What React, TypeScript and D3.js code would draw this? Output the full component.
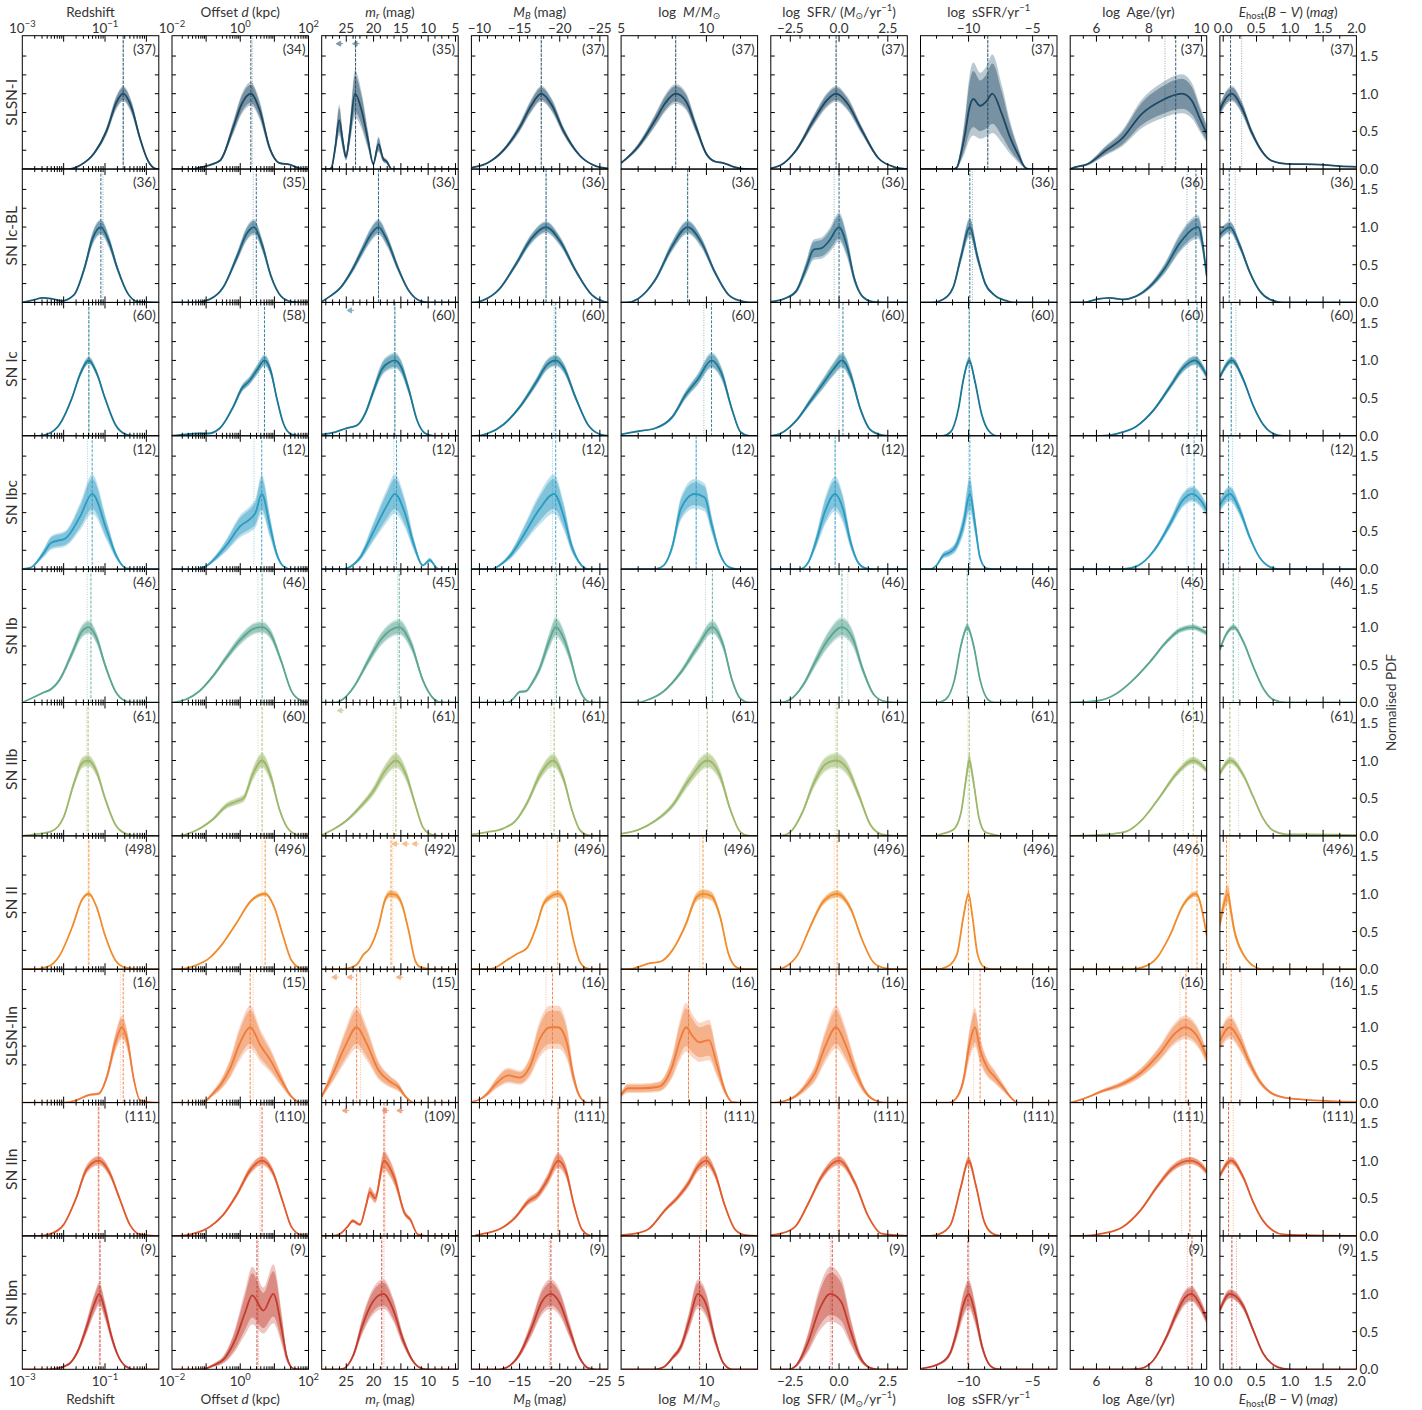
import React, { useEffect, useRef } from 'react';
import * as d3 from 'd3';

// supernova classes, one per row
const classes = ['SLSN-I', 'SN Ic-BL', 'SN Ic', 'SN Ibc', 'SN Ib', 'SN IIb', 'SN II', 'SLSN-IIn', 'SN IIn', 'SN Ibn'];
const classColors = ['#1c4863', '#1d5d7c', '#1b7796', '#2b9bc2', '#5ba593', '#9db86b', '#f18c2c', '#ef7b3a', '#e05a2b', '#c33b2d'];

// sample sizes, rows = classes, cols = properties
const counts = [
  [37, 34, 35, 37, 37, 37, 37, 37, 37],
  [36, 35, 36, 36, 36, 36, 36, 36, 36],
  [60, 58, 60, 60, 60, 60, 60, 60, 60],
  [12, 12, 12, 12, 12, 12, 12, 12, 12],
  [46, 46, 45, 46, 46, 46, 46, 46, 46],
  [61, 60, 61, 61, 61, 61, 61, 61, 61],
  [498, 496, 492, 496, 496, 496, 496, 496, 496],
  [16, 15, 15, 16, 16, 16, 16, 16, 16],
  [111, 110, 109, 111, 111, 111, 111, 111, 111],
  [9, 9, 9, 9, 9, 9, 9, 9, 9],
];

// ---- Redshift (log10 z, normalised pdf) ----
const redshiftPdf = [
  [[-1.9, 0], [-1.6, 0.05], [-1.25, 0.22], [-0.96, 0.51], [-0.72, 0.89], [-0.56, 1], [-0.36, 0.82], [-0.16, 0.42], [0.04, 0.11], [0.2, 0.01], [0.3, 0]],
  [[-3, 0], [-2.75, 0.03], [-2.5, 0.06], [-2.3, 0.05], [-2.05, 0.02], [-1.75, 0.1], [-1.5, 0.45], [-1.3, 0.85], [-1.1, 1], [-0.9, 0.8], [-0.7, 0.45], [-0.45, 0.12], [-0.2, 0.01], [0.3, 0]],
  [[-2.6, 0], [-2.4, 0.02], [-2.1, 0.15], [-1.8, 0.5], [-1.6, 0.82], [-1.39, 1], [-1.2, 0.83], [-1.0, 0.5], [-0.75, 0.15], [-0.5, 0.02], [-0.3, 0]],
  [[-3, 0], [-2.8, 0.02], [-2.5, 0.2], [-2.3, 0.35], [-1.95, 0.41], [-1.6, 0.7], [-1.31, 1], [-0.96, 0.52], [-0.72, 0.17], [-0.48, 0.01], [-0.2, 0]],
  [[-3, 0], [-2.8, 0.05], [-2.5, 0.13], [-2.3, 0.18], [-2.1, 0.3], [-1.8, 0.65], [-1.55, 0.95], [-1.39, 1], [-1.2, 0.85], [-1.0, 0.5], [-0.75, 0.15], [-0.5, 0.02], [-0.3, 0]],
  [[-3, 0], [-2.7, 0.02], [-2.3, 0.06], [-2.0, 0.25], [-1.75, 0.7], [-1.55, 0.97], [-1.41, 1], [-1.2, 0.85], [-1.0, 0.5], [-0.75, 0.15], [-0.5, 0.03], [-0.2, 0]],
  [[-2.7, 0], [-2.4, 0.03], [-2.1, 0.18], [-1.8, 0.55], [-1.55, 0.93], [-1.39, 1], [-1.2, 0.82], [-1.0, 0.45], [-0.75, 0.12], [-0.5, 0.02], [-0.2, 0]],
  [[-2.0, 0], [-1.7, 0.03], [-1.4, 0.1], [-1.15, 0.12], [-0.95, 0.35], [-0.75, 0.8], [-0.59, 1], [-0.45, 0.8], [-0.3, 0.3], [-0.15, 0.03], [0.3, 0]],
  [[-2.6, 0], [-2.3, 0.03], [-2.0, 0.15], [-1.7, 0.5], [-1.45, 0.88], [-1.15, 1], [-0.9, 0.85], [-0.65, 0.5], [-0.4, 0.15], [-0.15, 0.02], [0.2, 0]],
  [[-2.4, 0], [-2.1, 0.02], [-1.85, 0.08], [-1.65, 0.25], [-1.45, 0.55], [-1.25, 0.88], [-1.14, 1], [-1.0, 0.78], [-0.85, 0.45], [-0.7, 0.2], [-0.5, 0.04], [-0.3, 0]],
];
const redshiftBand = [0.08, 0.08, 0.04, 0.2, 0.07, 0.06, 0.02, 0.12, 0.05, 0.12];
const redshiftMedian = [[-0.56, -0.56], [-1.1, -1.05], [-1.39, -1.39], [-1.31, -1.42], [-1.34, -1.43], [-1.41, -1.45], [-1.39, -1.41], [-0.56, -0.63], [-1.15, -1.17], [-1.12, -1.14]];

// ---- Offset (log10 kpc) ----
const offsetPdf = [
  [[-1.4, 0], [-1.2, 0.02], [-0.6, 0.11], [-0.2, 0.56], [0.04, 0.86], [0.31, 1], [0.57, 0.78], [0.87, 0.27], [1.15, 0.08], [1.45, 0.06], [1.75, 0.01], [2, 0]],
  [[-1.3, 0], [-0.9, 0.04], [-0.5, 0.2], [-0.1, 0.6], [0.2, 0.92], [0.4, 1], [0.65, 0.75], [0.9, 0.35], [1.2, 0.08], [1.5, 0.01], [1.8, 0]],
  [[-2, 0], [-1.6, 0.02], [-1.2, 0.03], [-0.95, 0.03], [-0.6, 0.1], [-0.2, 0.39], [0.05, 0.63], [0.25, 0.72], [0.5, 0.88], [0.71, 1], [0.9, 0.85], [1.07, 0.5], [1.26, 0.17], [1.5, 0.02], [1.8, 0]],
  [[-1.3, 0], [-1.0, 0.04], [-0.79, 0.12], [-0.4, 0.32], [0.0, 0.57], [0.3, 0.67], [0.45, 0.75], [0.63, 1], [0.87, 0.57], [1.07, 0.2], [1.26, 0.04], [1.5, 0]],
  [[-2, 0], [-1.6, 0.04], [-1.2, 0.15], [-0.8, 0.35], [-0.4, 0.6], [0.0, 0.83], [0.4, 0.98], [0.64, 1], [0.9, 0.9], [1.2, 0.55], [1.5, 0.15], [1.8, 0.02], [2, 0]],
  [[-1.8, 0], [-1.4, 0.05], [-0.8, 0.22], [-0.4, 0.4], [-0.15, 0.45], [0.1, 0.5], [0.35, 0.8], [0.64, 1], [0.9, 0.78], [1.15, 0.35], [1.45, 0.07], [1.8, 0]],
  [[-1.8, 0], [-1.3, 0.05], [-0.9, 0.15], [-0.5, 0.35], [-0.1, 0.62], [0.3, 0.9], [0.73, 1], [1.0, 0.82], [1.25, 0.45], [1.5, 0.12], [1.8, 0.01], [2, 0]],
  [[-1.1, 0], [-0.8, 0.12], [-0.55, 0.25], [-0.3, 0.45], [0.0, 0.8], [0.29, 1], [0.6, 0.75], [0.9, 0.55], [1.2, 0.3], [1.5, 0.08], [1.8, 0]],
  [[-1.8, 0], [-1.3, 0.04], [-0.9, 0.12], [-0.5, 0.28], [-0.1, 0.55], [0.3, 0.88], [0.64, 1], [0.95, 0.85], [1.25, 0.45], [1.5, 0.12], [1.8, 0.01], [2, 0]],
  [[-1.1, 0], [-0.8, 0.05], [-0.45, 0.15], [-0.15, 0.39], [0.14, 0.75], [0.35, 0.98], [0.68, 0.78], [0.97, 1], [1.22, 0.52], [1.36, 0.17], [1.56, 0.01], [1.8, 0]],
];
const offsetBand = [0.12, 0.08, 0.06, 0.2, 0.06, 0.08, 0.02, 0.22, 0.05, 0.3];
const offsetMedian = [[0.31, 0.35], [0.47, 0.38], [0.71, 0.53], [0.63, 0.4], [0.64, 0.52], [0.64, 0.52], [0.73, 0.64], [0.29, 0.38], [0.64, 0.58], [0.49, 0.53]];

// ---- apparent magnitude m_r ----
const mrPdf = [
  [[28.2, 0], [27.7, 0.02], [27.0, 0.3], [26.3, 0.65], [25.6, 0.35], [25.05, 0.16], [24.4, 0.45], [23.4, 1.0], [22.2, 0.78], [21.0, 0.38], [20.05, 0.07], [19.1, 0.33], [18.2, 0.13], [17.6, 0.1], [16.7, 0]],
  [[29.5, 0.01], [28, 0.08], [26, 0.2], [24, 0.42], [22, 0.7], [20.5, 0.9], [19.1, 1], [17.5, 0.82], [15.5, 0.45], [13.5, 0.15], [11.5, 0.02], [10, 0]],
  [[29.5, 0.02], [27, 0.05], [25, 0.1], [23, 0.14], [21.5, 0.3], [20, 0.6], [18.5, 0.88], [17, 0.98], [16.1, 1], [15, 0.92], [13.5, 0.6], [12, 0.2], [10.5, 0.03], [9, 0]],
  [[25.5, 0], [24.3, 0.03], [22.5, 0.15], [20, 0.5], [17.5, 0.85], [16.1, 1], [14.3, 0.75], [12.5, 0.3], [11, 0.05], [9.7, 0.12], [8.5, 0.02], [8, 0]],
  [[27, 0], [25.5, 0.05], [23.5, 0.22], [21, 0.55], [18.5, 0.85], [15.3, 1], [13, 0.75], [11, 0.3], [9, 0.05], [7.5, 0]],
  [[29.5, 0.01], [27.5, 0.08], [25, 0.2], [22.5, 0.38], [20, 0.6], [18, 0.85], [15.9, 1], [14, 0.8], [12.5, 0.45], [11, 0.12], [9.5, 0.02], [8, 0]],
  [[26, 0], [24.9, 0.01], [23.1, 0.06], [21.9, 0.19], [20.7, 0.28], [19.1, 0.57], [17.9, 0.92], [17.0, 1.0], [16.0, 0.99], [14.9, 0.88], [13.6, 0.52], [12.4, 0.12], [11.5, 0.03], [9, 0]],
  [[29.5, 0.08], [27.4, 0.39], [25.2, 0.75], [23.1, 1], [21.3, 0.79], [19.1, 0.43], [17.0, 0.28], [15.5, 0.21], [13.9, 0.06], [12.7, 0]],
  [[27.5, 0], [26.1, 0.03], [24.8, 0.12], [23.8, 0.2], [22.5, 0.15], [21.4, 0.4], [20.7, 0.58], [19.7, 0.5], [18.1, 1.0], [17, 0.9], [16.1, 0.75], [14.3, 0.3], [13.3, 0.22], [11.9, 0.02], [10.5, 0]],
  [[26.5, 0], [25.5, 0.01], [23.7, 0.19], [22.1, 0.57], [20.1, 0.9], [18.2, 1], [16.4, 0.79], [14.6, 0.39], [12.7, 0.1], [11.1, 0.01], [10, 0]],
];
const mrBand = [0.24, 0.08, 0.08, 0.2, 0.08, 0.08, 0.04, 0.22, 0.1, 0.15];
const mrMedian = [[23.3, 23.3], [19.1, 19.1], [16.1, 16.1], [15.8, 16.3], [15.3, 15.6], [15.9, 16.4], [16.8, 16.5], [23.1, 22.4], [18.1, 17.9], [18.5, 18.1]];
// upper limits drawn as small arrows near the top
const mrLimits = [[26.3, 23.3], [], [24.3], [], [], [26.1], [16.1, 14.2, 12.4], [27.1, 24.3, 15.3], [25.2, 17.9, 15.2], []];

// ---- absolute magnitude M_B ----
const mbPdf = [
  [[-9, 0.02], [-11, 0.08], [-13, 0.25], [-15, 0.55], [-16.5, 0.85], [-17.7, 1], [-19, 0.85], [-20.5, 0.5], [-22.5, 0.18], [-24.5, 0.04], [-26, 0.01]],
  [[-9.5, 0], [-10.5, 0.03], [-12.5, 0.18], [-14.5, 0.5], [-16.5, 0.85], [-18.3, 1], [-20, 0.82], [-22, 0.42], [-24, 0.1], [-25.5, 0.01], [-26, 0]],
  [[-9.5, 0], [-11, 0.03], [-13, 0.15], [-15, 0.38], [-17, 0.7], [-18.5, 0.95], [-19.5, 1], [-20.5, 0.9], [-22, 0.5], [-23.5, 0.15], [-25, 0.02], [-26, 0]],
  [[-11.5, 0], [-12.5, 0.05], [-14, 0.2], [-15.5, 0.45], [-17.5, 0.8], [-19.3, 1], [-20.5, 0.7], [-21.5, 0.3], [-22.5, 0.08], [-23.5, 0]],
  [[-13.5, 0], [-14.2, 0.05], [-15, 0.14], [-15.8, 0.15], [-16.5, 0.25], [-17.5, 0.45], [-18.7, 0.82], [-19.5, 1], [-20.5, 0.85], [-21.3, 0.6], [-22.2, 0.25], [-23.3, 0.03], [-24, 0]],
  [[-9, 0.02], [-11, 0.05], [-13, 0.1], [-14.5, 0.2], [-16, 0.45], [-17.5, 0.8], [-19.2, 1], [-20.5, 0.75], [-21.5, 0.35], [-22.5, 0.08], [-23.5, 0.01], [-24.5, 0]],
  [[-11, 0], [-11.7, 0.01], [-13.4, 0.12], [-14.6, 0.2], [-15.9, 0.28], [-17.1, 0.57], [-17.95, 0.86], [-18.8, 0.96], [-19.75, 1], [-20.7, 0.88], [-21.7, 0.39], [-22.5, 0.1], [-23.4, 0.01], [-24, 0]],
  [[-9, 0.01], [-10, 0.04], [-11, 0.12], [-12.15, 0.26], [-13.6, 0.36], [-15.05, 0.33], [-16.3, 0.48], [-17.5, 0.84], [-18.8, 1], [-19.8, 1], [-20.9, 0.79], [-21.7, 0.35], [-22.5, 0.08], [-23.4, 0]],
  [[-9.5, 0.01], [-11, 0.04], [-13, 0.12], [-14.5, 0.25], [-16, 0.45], [-17.3, 0.55], [-18.5, 0.75], [-19.8, 1], [-20.8, 0.85], [-21.8, 0.4], [-22.8, 0.08], [-24, 0]],
  [[-12.5, 0], [-13.5, 0.03], [-15, 0.2], [-16.5, 0.55], [-17.8, 0.9], [-18.9, 1], [-20, 0.88], [-21.3, 0.5], [-22.5, 0.15], [-23.5, 0.02], [-24.5, 0]],
];
const mbBand = [0.08, 0.06, 0.06, 0.2, 0.1, 0.07, 0.04, 0.22, 0.08, 0.15];
const mbMedian = [[-17.7, -17.7], [-18.3, -18.3], [-19.5, -19.3], [-19.5, -19.1], [-19.6, -19.4], [-19.3, -18.9], [-19.75, -18.4], [-19.1, -18.3], [-19.8, -19.8], [-18.9, -18.7]];

// ---- stellar mass log M ----
const massPdf = [
  [[5, 0.08], [6, 0.3], [7, 0.65], [7.6, 0.88], [8.2, 1], [8.8, 0.9], [9.4, 0.55], [10, 0.2], [10.5, 0.1], [11, 0.08], [11.6, 0.03], [12.5, 0]],
  [[5.3, 0], [6, 0.05], [7, 0.3], [8, 0.75], [8.9, 1], [9.7, 0.8], [10.5, 0.4], [11.3, 0.1], [12, 0.02], [12.5, 0]],
  [[5, 0.02], [6, 0.06], [7, 0.1], [8, 0.25], [8.8, 0.55], [9.5, 0.75], [10.3, 1], [10.9, 0.82], [11.5, 0.35], [12, 0.05], [12.5, 0]],
  [[7, 0], [7.5, 0.05], [8, 0.3], [8.5, 0.8], [9.3, 1], [9.9, 0.95], [10.3, 0.6], [10.8, 0.2], [11.3, 0.03], [11.8, 0]],
  [[6, 0], [6.5, 0.03], [7.5, 0.15], [8.5, 0.4], [9.5, 0.75], [10.35, 1], [11, 0.75], [11.5, 0.3], [12, 0.05], [12.5, 0]],
  [[5, 0.03], [6, 0.08], [7, 0.2], [8, 0.4], [9, 0.75], [10.05, 1], [10.8, 0.8], [11.4, 0.35], [12, 0.05], [12.5, 0]],
  [[5.5, 0], [6, 0.03], [6.7, 0.08], [7.3, 0.1], [8, 0.25], [8.8, 0.6], [9.4, 0.95], [9.8, 1], [10.3, 0.97], [10.8, 0.7], [11.3, 0.2], [11.8, 0.02], [12.3, 0]],
  [[5, 0.1], [5.4, 0.19], [6.2, 0.19], [7.2, 0.21], [8, 0.48], [8.45, 0.83], [8.8, 1], [9.2, 0.88], [9.6, 0.8], [10.15, 0.83], [10.6, 0.52], [11.1, 0.15], [11.5, 0.01], [12, 0]],
  [[5, 0.01], [6, 0.04], [6.6, 0.09], [7.6, 0.35], [8.35, 0.52], [8.95, 0.7], [9.5, 0.92], [10.0, 1], [10.5, 0.83], [11.1, 0.39], [11.7, 0.08], [12.3, 0.01], [13, 0]],
  [[7, 0], [7.5, 0.03], [8, 0.15], [8.5, 0.3], [9, 0.65], [9.5, 1], [10, 0.85], [10.5, 0.4], [11, 0.08], [11.5, 0]],
];
const massBand = [0.1, 0.07, 0.08, 0.15, 0.07, 0.08, 0.05, 0.25, 0.06, 0.15];
const massMedian = [[8.2, 8.2], [8.9, 8.9], [10.3, 9.85], [9.4, 9.4], [10.35, 9.95], [10.05, 9.55], [9.8, 9.6], [8.95, 8.95], [10.0, 9.68], [9.6, 9.6]];

// ---- star formation rate log SFR ----
const sfrPdf = [
  [[-3.5, 0.01], [-3, 0.05], [-2.2, 0.25], [-1.3, 0.65], [-0.6, 0.92], [-0.15, 1], [0.4, 0.88], [1.2, 0.5], [2, 0.15], [2.8, 0.03], [3.5, 0]],
  [[-3.5, 0.01], [-2.8, 0.05], [-2.2, 0.15], [-1.7, 0.45], [-1.3, 0.7], [-0.9, 0.72], [-0.5, 0.82], [0, 1], [0.4, 0.75], [0.8, 0.3], [1.2, 0.08], [1.7, 0.01], [2.2, 0]],
  [[-3.5, 0], [-3, 0.03], [-2.2, 0.2], [-1.5, 0.45], [-0.8, 0.7], [-0.3, 0.88], [0.15, 1], [0.6, 0.8], [1.1, 0.35], [1.6, 0.08], [2.2, 0.01], [2.6, 0]],
  [[-2, 0], [-1.6, 0.08], [-1.2, 0.35], [-0.7, 0.78], [-0.2, 1], [0.2, 0.8], [0.6, 0.35], [1.0, 0.08], [1.4, 0.01], [1.8, 0]],
  [[-3, 0], [-2.5, 0.04], [-1.8, 0.25], [-1.2, 0.55], [-0.6, 0.82], [0.15, 1], [0.7, 0.85], [1.2, 0.45], [1.8, 0.1], [2.4, 0.01], [2.8, 0]],
  [[-3, 0], [-2.5, 0.05], [-1.9, 0.3], [-1.3, 0.7], [-0.7, 0.95], [-0.15, 1], [0.4, 0.9], [1.0, 0.55], [1.6, 0.15], [2.2, 0.02], [2.8, 0]],
  [[-3.2, 0], [-2.7, 0.04], [-2.1, 0.2], [-1.5, 0.55], [-0.8, 0.9], [-0.1, 1], [0.6, 0.8], [1.2, 0.38], [1.8, 0.08], [2.4, 0.01], [2.8, 0]],
  [[-3.3, 0], [-2.8, 0.02], [-2.26, 0.08], [-1.66, 0.23], [-1.23, 0.39], [-0.72, 0.74], [-0.15, 1], [0.3, 0.79], [0.82, 0.43], [1.33, 0.15], [1.84, 0.03], [2.4, 0]],
  [[-3.5, 0.01], [-3, 0.03], [-2.26, 0.12], [-1.58, 0.43], [-0.89, 0.79], [0, 1], [0.82, 0.7], [1.5, 0.26], [2.19, 0.03], [2.9, 0.01], [3.5, 0]],
  [[-2.6, 0], [-2.2, 0.05], [-1.6, 0.35], [-1.0, 0.8], [-0.45, 1], [0.1, 0.9], [0.6, 0.5], [1.1, 0.15], [1.6, 0.02], [2, 0]],
];
const sfrBand = [0.08, 0.15, 0.08, 0.18, 0.1, 0.08, 0.04, 0.22, 0.05, 0.28];
const sfrMedian = [[-0.15, -0.15], [0.0, -0.25], [0.2, 0.0], [-0.2, -0.2], [0.15, 0.45], [-0.1, -0.2], [-0.1, -0.25], [-0.15, -0.15], [0.0, -0.07], [-0.35, -0.45]];

// ---- specific SFR ----
const ssfrPdf = [
  [[-11.2, 0], [-10.92, 0.02], [-10.6, 0.2], [-10.27, 0.47], [-9.95, 0.8], [-9.63, 0.93], [-9.1, 0.84], [-8.6, 0.9], [-8.14, 1], [-7.4, 0.73], [-6.76, 0.42], [-6.1, 0.18], [-5.59, 0.02], [-5.3, 0]],
  [[-12.8, 0], [-12, 0.04], [-11.2, 0.2], [-10.6, 0.6], [-9.9, 1], [-9.3, 0.6], [-8.7, 0.25], [-8, 0.1], [-7, 0.02], [-6.5, 0]],
  [[-12, 0], [-11.4, 0.05], [-10.8, 0.35], [-10.4, 0.75], [-9.95, 1], [-9.5, 0.72], [-9, 0.3], [-8.4, 0.06], [-7.8, 0]],
  [[-13, 0], [-12.5, 0.05], [-12, 0.18], [-11.5, 0.22], [-11, 0.3], [-10.4, 0.6], [-9.9, 1], [-9.5, 0.6], [-9.1, 0.15], [-8.6, 0.01], [-8, 0]],
  [[-12.5, 0], [-11.8, 0.04], [-11.1, 0.3], [-10.6, 0.75], [-10.1, 1], [-9.6, 0.75], [-9.1, 0.3], [-8.5, 0.04], [-8, 0]],
  [[-12.6, 0], [-12, 0.03], [-11.2, 0.08], [-10.6, 0.3], [-10.2, 0.75], [-9.95, 1], [-9.6, 0.7], [-9.2, 0.25], [-8.7, 0.05], [-8.1, 0.02], [-7.5, 0]],
  [[-12.5, 0], [-11.6, 0.04], [-10.9, 0.2], [-10.4, 0.7], [-10.0, 1], [-9.7, 0.7], [-9.3, 0.2], [-8.8, 0.03], [-8.2, 0]],
  [[-11.5, 0], [-11, 0.05], [-10.4, 0.3], [-9.9, 0.8], [-9.5, 1], [-9.1, 0.7], [-8.5, 0.45], [-8, 0.35], [-7.3, 0.2], [-6.6, 0.05], [-6.2, 0]],
  [[-13, 0], [-12.2, 0.03], [-11.4, 0.15], [-10.6, 0.65], [-10, 1], [-9.4, 0.65], [-8.8, 0.2], [-8.2, 0.04], [-7.5, 0]],
  [[-13.7, 0.01], [-12.2, 0.08], [-11.45, 0.21], [-10.92, 0.5], [-10.4, 0.86], [-10, 1], [-9.5, 0.75], [-8.97, 0.32], [-8.45, 0.08], [-7.93, 0.01], [-7.3, 0]],
];
const ssfrBand = [0.4, 0.1, 0.04, 0.18, 0.04, 0.08, 0.03, 0.2, 0.05, 0.15];
const ssfrMedian = [[-8.5, -8.5], [-9.9, -9.7], [-9.95, -9.95], [-9.9, -10.0], [-10.1, -10.1], [-9.95, -10.05], [-10.0, -10.05], [-9.1, -9.6], [-10.0, -10.0], [-10.05, -9.97]];

// ---- stellar population age ----
const agePdf = [
  [[5, 0], [5.06, 0.01], [5.69, 0.07], [6.33, 0.24], [6.96, 0.4], [7.72, 0.73], [8.49, 0.91], [9.25, 1], [9.63, 0.91], [9.94, 0.67], [10.2, 0.47]],
  [[5.5, 0], [6, 0.04], [6.5, 0.06], [7, 0.04], [7.5, 0.08], [8, 0.2], [8.6, 0.45], [9.2, 0.8], [9.87, 1], [10.2, 0.35]],
  [[6.2, 0], [6.8, 0.03], [7.5, 0.12], [8.2, 0.35], [8.8, 0.65], [9.3, 0.9], [9.75, 1], [10.2, 0.8]],
  [[7, 0], [7.6, 0.05], [8.2, 0.25], [8.8, 0.6], [9.3, 0.92], [9.65, 1], [10, 0.9], [10.2, 0.78]],
  [[5, 0], [6, 0.02], [6.77, 0.12], [7.4, 0.3], [8.04, 0.54], [8.68, 0.81], [9.18, 0.96], [9.69, 1], [9.94, 0.97], [10.2, 0.92]],
  [[5, 0], [6, 0.01], [6.7, 0.03], [7.15, 0.06], [7.78, 0.23], [8.42, 0.52], [9.06, 0.83], [9.69, 1], [10.2, 0.87]],
  [[7.3, 0], [7.8, 0.03], [8.3, 0.15], [8.8, 0.45], [9.3, 0.85], [9.79, 1], [10.2, 0.45]],
  [[5, 0], [5.5, 0.05], [6.2, 0.15], [7, 0.25], [7.7, 0.4], [8.4, 0.65], [9, 0.92], [9.37, 1], [9.8, 0.9], [10.2, 0.6]],
  [[5.5, 0], [6.2, 0.03], [7, 0.12], [7.7, 0.35], [8.3, 0.65], [8.9, 0.9], [9.56, 1], [10, 0.93], [10.2, 0.85]],
  [[7.2, 0], [7.66, 0.01], [8.17, 0.12], [8.68, 0.44], [9.06, 0.75], [9.37, 0.95], [9.63, 1], [9.88, 0.9], [10.2, 0.66]],
];
const ageBand = [0.2, 0.12, 0.05, 0.08, 0.03, 0.04, 0.03, 0.12, 0.04, 0.08];
const ageMedian = [[9.02, 8.61], [9.79, 9.45], [9.83, 9.52], [9.72, 9.45], [9.67, 9.08], [9.69, 9.31], [9.83, 9.64], [9.41, 9.18], [9.56, 9.25], [9.64, 9.46]];

// ---- host extinction E(B-V) ----
const ebvPdf = [
  [[-0.05, 0.78], [0.0, 0.88], [0.13, 1], [0.277, 0.82], [0.427, 0.49], [0.578, 0.24], [0.728, 0.11], [0.95, 0.07], [1.45, 0.06], [1.75, 0.04], [2.0, 0.03]],
  [[-0.05, 0.9], [0.1, 1], [0.25, 0.75], [0.4, 0.4], [0.55, 0.15], [0.7, 0.04], [0.9, 0], [2, 0]],
  [[-0.05, 0.78], [0.13, 1], [0.3, 0.75], [0.45, 0.4], [0.6, 0.15], [0.75, 0.03], [0.9, 0], [2, 0]],
  [[-0.05, 0.85], [0.1, 1], [0.25, 0.78], [0.4, 0.42], [0.55, 0.15], [0.7, 0.03], [0.85, 0], [2, 0]],
  [[-0.05, 0.7], [0.03, 0.88], [0.16, 1], [0.3, 0.81], [0.45, 0.48], [0.6, 0.19], [0.75, 0.04], [0.95, 0], [2, 0]],
  [[-0.05, 0.83], [0.11, 1], [0.3, 0.81], [0.45, 0.52], [0.6, 0.23], [0.75, 0.07], [0.95, 0.02], [1.3, 0.02], [1.7, 0.015], [2, 0.01]],
  [[-0.05, 0.6], [0.02, 0.9], [0.07, 1], [0.12, 0.75], [0.17, 0.5], [0.22, 0.35], [0.3, 0.2], [0.4, 0.08], [0.5, 0.02], [0.6, 0], [2, 0]],
  [[-0.05, 0.82], [0.1, 1], [0.25, 0.82], [0.4, 0.52], [0.55, 0.28], [0.7, 0.14], [0.9, 0.07], [1.2, 0.04], [1.6, 0.02], [2, 0.01]],
  [[-0.05, 0.8], [0.12, 1], [0.3, 0.78], [0.45, 0.45], [0.6, 0.2], [0.75, 0.07], [0.9, 0.02], [1.2, 0.01], [2, 0]],
  [[-0.05, 0.79], [0.1, 1], [0.3, 0.84], [0.45, 0.52], [0.6, 0.21], [0.75, 0.06], [0.9, 0.01], [1.05, 0], [2, 0]],
];
const ebvBand = [0.08, 0.06, 0.04, 0.08, 0.03, 0.04, 0.1, 0.12, 0.04, 0.05];
const ebvMedian = [[0.11, 0.277], [0.09, 0.18], [0.12, 0.19], [0.08, 0.14], [0.15, 0.23], [0.1, 0.23], [0.05, 0.09], [0.12, 0.27], [0.08, 0.15], [0.13, 0.2]];

// layout
const W = 1422;
const H = 1410;
const left0 = 22.3;
const pitch = 149.7;
const pw = 136.5;
const top0 = 35.7;
const ph = 133.36;
const FONT = "Lato, 'DejaVu Sans', sans-serif";
const TXT = '#333';
const FS = 13.5;

type Part = { t: string; i?: boolean; sub?: boolean; sup?: boolean };

const minus = (v: number, dp = 0) => (v < 0 ? '\u2212' : '') + Math.abs(v).toFixed(dp);

const columns = [
  { title: [{ t: 'Redshift' }], pdf: redshiftPdf, band: redshiftBand, median: redshiftMedian, log: true, domain: [1e-3, 2], major: [1e-3, 1e-1] },
  { title: [{ t: 'Offset ' }, { t: 'd', i: true }, { t: ' (kpc)' }], pdf: offsetPdf, band: offsetBand, median: offsetMedian, log: true, domain: [1e-2, 1e2], major: [1e-2, 1, 1e2] },
  { title: [{ t: 'm', i: true }, { t: 'r', i: true, sub: true }, { t: ' (mag)' }], pdf: mrPdf, band: mrBand, median: mrMedian, domain: [29.5, 4.5], step: 1.25, major: [25, 20, 15, 10, 5], dp: 0 },
  { title: [{ t: 'M', i: true }, { t: 'B', i: true, sub: true }, { t: ' (mag)' }], pdf: mbPdf, band: mbBand, median: mbMedian, domain: [-9, -26], step: 1, major: [-10, -15, -20, -25], dp: 0 },
  { title: [{ t: 'log  ' }, { t: 'M', i: true }, { t: '/' }, { t: 'M', i: true }, { t: '\u2299', sub: true }], pdf: massPdf, band: massBand, median: massMedian, domain: [5, 13], step: 1, major: [5, 10], dp: 0 },
  { title: [{ t: 'log  SFR/ (' }, { t: 'M', i: true }, { t: '\u2299', sub: true }, { t: '/yr' }, { t: '\u22121', sup: true }, { t: ')' }], pdf: sfrPdf, band: sfrBand, median: sfrMedian, domain: [-3.5, 3.5], step: 0.5, major: [-2.5, 0, 2.5], dp: 1 },
  { title: [{ t: 'log  sSFR/yr' }, { t: '\u22121', sup: true }], pdf: ssfrPdf, band: ssfrBand, median: ssfrMedian, domain: [-13.75, -3.1], step: 1.25, major: [-10, -5], dp: 0 },
  { title: [{ t: 'log  Age/(yr)' }], pdf: agePdf, band: ageBand, median: ageMedian, domain: [5, 10.2], step: 0.5, major: [6, 8, 10], dp: 0 },
  { title: [{ t: 'E', i: true }, { t: 'host', sub: true }, { t: '(' }, { t: 'B', i: true }, { t: ' \u2212 ' }, { t: 'V', i: true }, { t: ') (' }, { t: 'mag', i: true }, { t: ')' }], pdf: ebvPdf, band: ebvBand, median: ebvMedian, domain: [-0.05, 2.0], step: 0.25, major: [0, 0.5, 1, 1.5, 2], dp: 1 },
];

function richText(sel: any, x: number, y: number, parts: Part[], anchor = 'middle', size = FS) {
  const t = sel.append('text')
    .attr('x', x).attr('y', y)
    .attr('text-anchor', anchor)
    .attr('font-size', size)
    .attr('fill', TXT)
    .style('white-space', 'pre');
  let shift = 0;
  parts.forEach(p => {
    const target = p.sub ? size * 0.2 : p.sup ? -size * 0.42 : 0;
    const ts = t.append('tspan').text(p.t);
    if (target !== shift) ts.attr('dy', target - shift);
    shift = target;
    if (p.i) ts.attr('font-style', 'italic');
    if (p.sub || p.sup) ts.attr('font-size', size * 0.7);
  });
  return t;
}

export default function App() {
  const ref = useRef<SVGSVGElement>(null);

  useEffect(() => {
    const svg = d3.select(ref.current);
    svg.selectAll('*').remove();
    svg.attr('font-family', FONT);

    const y = d3.scaleLinear().domain([0, 1.77]).range([ph, 0]);
    const yTicks = [0.25, 0.5, 0.75, 1, 1.25, 1.5];

    columns.forEach((col: any, c) => {
      const gx = left0 + c * pitch;
      const xs: any = col.log
        ? d3.scaleLog().domain(col.domain).range([0, pw])
        : d3.scaleLinear().domain(col.domain).range([0, pw]);
      const xv = (v: number) => (col.log ? xs(Math.pow(10, v)) : xs(v));

      // x ticks (shared by every row of this column)
      let xTicks: number[];
      if (col.log) {
        xTicks = xs.ticks();
      } else {
        const lo = Math.min(...col.domain), hi = Math.max(...col.domain);
        xTicks = d3.range(Math.ceil(lo / col.step - 1e-9), Math.floor(hi / col.step + 1e-9) + 1).map(k => k * col.step);
      }
      const isMajor = (v: number) => col.log
        ? Math.abs(Math.log10(v) - Math.round(Math.log10(v))) < 1e-6
        : col.major.some((m: number) => Math.abs(m - v) < 1e-6);

      classes.forEach((cls, r) => {
        const gy = top0 + r * ph;
        const color = classColors[r];
        const g = svg.append('g').attr('transform', `translate(${gx},${gy})`);
        const clipId = `clip-${c}-${r}`;
        g.append('clipPath').attr('id', clipId).append('rect').attr('width', pw).attr('height', ph);
        const plot = g.append('g').attr('clip-path', `url(#${clipId})`);

        const pts = (col.pdf[r] as number[][])
          .map(d => [xv(d[0]), d[1]])
          .sort((a, b) => a[0] - b[0]);
        const f = col.band[r];

        // uncertainty bands
        const area = (k: number) => d3.area<number[]>()
          .x(d => d[0])
          .y0(d => y(Math.max(0, d[1] * (1 - f * k))))
          .y1(d => y(d[1] * (1 + f * k)))
          .curve(d3.curveMonotoneX);
        plot.append('path').attr('d', area(1.3)(pts)).attr('fill', color).attr('fill-opacity', 0.3);
        plot.append('path').attr('d', area(1)(pts)).attr('fill', color).attr('fill-opacity', 0.42);

        // medians: dashed (dark) and dotted (light)
        const [mDash, mDot] = col.median[r];
        plot.append('line')
          .attr('x1', xv(mDot)).attr('x2', xv(mDot)).attr('y1', 0).attr('y2', ph)
          .attr('stroke', color).attr('stroke-opacity', 0.55).attr('stroke-width', 0.9)
          .attr('stroke-dasharray', '1,1.5');
        plot.append('line')
          .attr('x1', xv(mDash)).attr('x2', xv(mDash)).attr('y1', 0).attr('y2', ph)
          .attr('stroke', color).attr('stroke-width', 0.9)
          .attr('stroke-dasharray', '3,1.5');

        // pdf line, padded with the zero level to the panel edges
        const linePts = pts.slice();
        if (linePts[0][1] === 0 && linePts[0][0] > 0) linePts.unshift([0, 0]);
        const last = linePts[linePts.length - 1];
        if (last[1] === 0 && last[0] < pw) linePts.push([pw, 0]);
        const line = d3.line<number[]>().x(d => d[0]).y(d => y(d[1])).curve(d3.curveMonotoneX);
        plot.append('path').attr('d', line(linePts)).attr('fill', 'none')
          .attr('stroke', color).attr('stroke-width', 1.8);

        // upper-limit arrows (m_r column)
        if (c === 2) {
          mrLimits[r].forEach(m => {
            const ax = xs(m);
            g.append('path')
              .attr('d', `M${ax - 3},8 L${ax + 1.5},5.5 L${ax + 1.5},10.5 Z M${ax + 1.5},8 L${ax + 4},8`)
              .attr('fill', color).attr('stroke', color).attr('stroke-width', 1)
              .attr('opacity', 0.55);
          });
        }

        // frame
        g.append('rect').attr('width', pw).attr('height', ph)
          .attr('fill', 'none').attr('stroke', '#000').attr('stroke-width', 1);

        // x ticks, inward on top and bottom
        xTicks.forEach(v => {
          const px = xs(v);
          if (px < 0.5 || px > pw - 0.5) return;
          const len = isMajor(v) ? 6 : 3;
          g.append('line').attr('x1', px).attr('x2', px).attr('y1', 0).attr('y2', len).attr('stroke', '#000').attr('stroke-width', 1);
          g.append('line').attr('x1', px).attr('x2', px).attr('y1', ph).attr('y2', ph - len).attr('stroke', '#000').attr('stroke-width', 1);
        });
        // y ticks, inward on left and right
        yTicks.forEach(v => {
          g.append('line').attr('x1', 0).attr('x2', 4).attr('y1', y(v)).attr('y2', y(v)).attr('stroke', '#000');
          g.append('line').attr('x1', pw).attr('x2', pw - 4).attr('y1', y(v)).attr('y2', y(v)).attr('stroke', '#000');
        });

        // sample size
        g.append('text').attr('x', pw - 3).attr('y', 18)
          .attr('text-anchor', 'end').attr('font-size', FS).attr('fill', TXT)
          .text(`(${counts[r][c]})`);

        // right-hand y labels on the last column
        if (c === columns.length - 1) {
          [0, 0.5, 1, 1.5].forEach(v => {
            g.append('text').attr('x', pw + 3).attr('y', y(v) + 5)
              .attr('font-size', FS).attr('fill', TXT).text(v.toFixed(1));
          });
        }

        // row label
        if (c === 0) {
          svg.append('text')
            .attr('transform', `translate(17,${gy + ph / 2}) rotate(-90)`)
            .attr('text-anchor', 'middle').attr('font-size', 15.5).attr('fill', TXT)
            .text(cls);
        }
      });

      // column titles and tick labels, top and bottom
      const cx = gx + pw / 2;
      richText(svg, cx, 16.5, col.title);
      richText(svg, cx, 1404, col.title);
      col.major.forEach((m: number) => {
        const px = gx + xs(m);
        const parts: Part[] = col.log
          ? [{ t: '10' }, { t: minus(Math.round(Math.log10(m))), sup: true }]
          : [{ t: minus(m, col.dp) }];
        richText(svg, px, 32.5, parts);
        richText(svg, px, 1386, parts);
      });
    });

    svg.append('text')
      .attr('transform', `translate(1396,${top0 + 5 * ph}) rotate(-90)`)
      .attr('text-anchor', 'middle').attr('font-size', FS).attr('fill', TXT)
      .text('Normalised PDF');
  }, []);

  return (
    <svg ref={ref} width={W} height={H}
      style={{ position: 'absolute', left: 0, top: 0, background: '#fff' }} />
  );
}
